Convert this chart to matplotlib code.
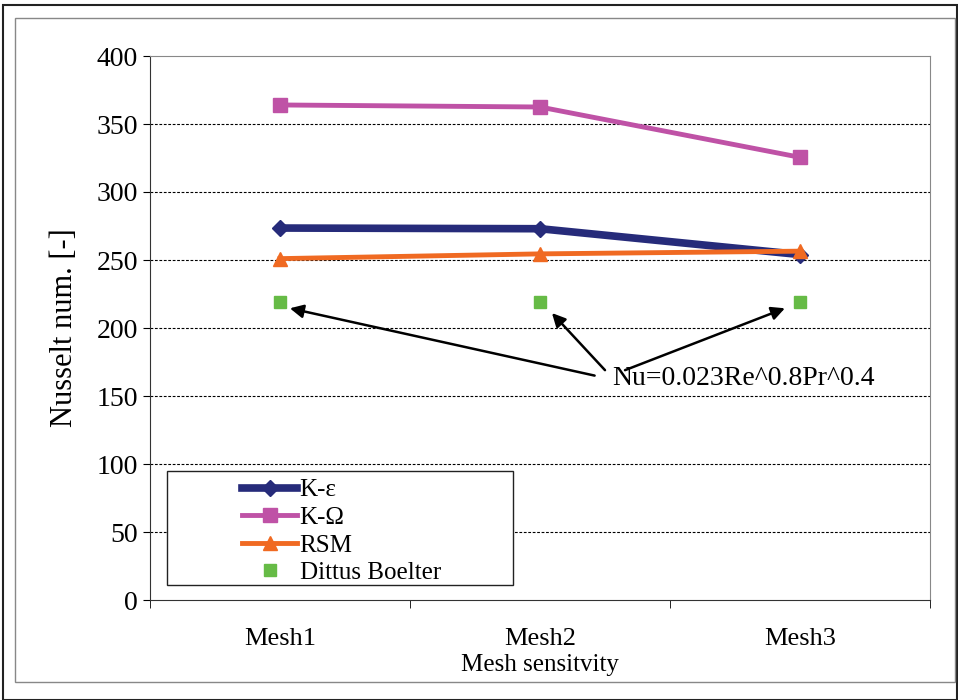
import matplotlib.pyplot as plt
from matplotlib.patches import Rectangle

plt.rcParams['font.family'] = ['Liberation Serif', 'DejaVu Serif']

meshes = ['Mesh1', 'Mesh2', 'Mesh3']
k_eps = [273.5, 273, 254]
k_omega = [364, 362.5, 325.5]
rsm = [251, 254.5, 256.5]
dittus = [219, 219, 219]
formula = 'Nu=0.023Re^0.8Pr^0.4'

fig = plt.figure(figsize=(9.58, 7.0), dpi=100)
# outer and inner frames
fig.patches.append(Rectangle((3 / 958, 0), 954 / 958, 695 / 700, transform=fig.transFigure,
                             fill=False, edgecolor='#222222', linewidth=1.5))
fig.patches.append(Rectangle((15 / 958, 18 / 700), 940 / 958, 664 / 700, transform=fig.transFigure,
                             fill=False, edgecolor='#888888', linewidth=1.0))

ax = fig.add_axes([150 / 958, 100 / 700, 780 / 958, 544 / 700])
x = [0, 1, 2]

ax.plot(x, k_eps, color='#262B7A', linewidth=5.5, marker='D', markersize=8, label='K-\u03b5', zorder=4)
ax.plot(x, k_omega, color='#BF52A6', linewidth=3.5, marker='s', markersize=10, label='K-\u03a9', zorder=4)
ax.plot(x, rsm, color='#F06A22', linewidth=3.5, marker='^', markersize=10, label='RSM', zorder=5)
ax.plot(x, dittus, linestyle='none', color='#66BB46', marker='s', markersize=9,
        label='Dittus Boelter', zorder=4)

ax.set_xlim(-0.5, 2.5)
ax.set_ylim(0, 400)
ax.set_yticks(range(0, 401, 50))
ax.set_xticks(x)
ax.set_xticklabels(meshes, fontsize=19)
ax.set_xticks([-0.5, 0.5, 1.5, 2.5], minor=True)
ax.tick_params(axis='x', which='major', length=0, pad=20)
ax.tick_params(axis='x', which='minor', length=6, direction='out')
ax.tick_params(axis='y', labelsize=20, length=5, direction='out')

for v in range(50, 400, 50):
    ax.axhline(v, color='black', linestyle=(0, (2.5, 1.5)), linewidth=0.8, zorder=1)

for side in ['top', 'right']:
    ax.spines[side].set_color('#888888')
ax.spines['left'].set_color('#333333')
ax.spines['bottom'].set_color('#333333')

ax.set_ylabel('Nusselt num. [-]', fontsize=22, labelpad=13)
ax.set_xlabel('Mesh sensitvity', fontsize=18, labelpad=3)

ax.text(1.277, 163, formula, fontsize=20, va='center', ha='left', zorder=6)
starts = [(1.21, 165), (1.25, 169), (1.327, 169)]
heads = [(0.038, 214.5), (1.046, 211), (1.942, 214.5)]
for s, h in zip(starts, heads):
    ax.annotate('', xy=h, xytext=s,
                arrowprops=dict(arrowstyle='-|>', color='black', lw=1.8, mutation_scale=20,
                                shrinkA=0, shrinkB=0),
                zorder=6)

ax.add_patch(Rectangle((17 / 780, 15 / 544), 346 / 780, 114 / 544, transform=ax.transAxes,
                       fill=True, facecolor='white', edgecolor='#222222', linewidth=1.0, zorder=7))
leg = ax.legend(loc='upper left', bbox_to_anchor=(92 / 780, 121 / 544), fontsize=18,
                frameon=False, borderpad=0, handlelength=2.2, handletextpad=0.1,
                labelspacing=0.2, borderaxespad=0)
leg.set_zorder(8)

fig.savefig('out.png', dpi=100)
